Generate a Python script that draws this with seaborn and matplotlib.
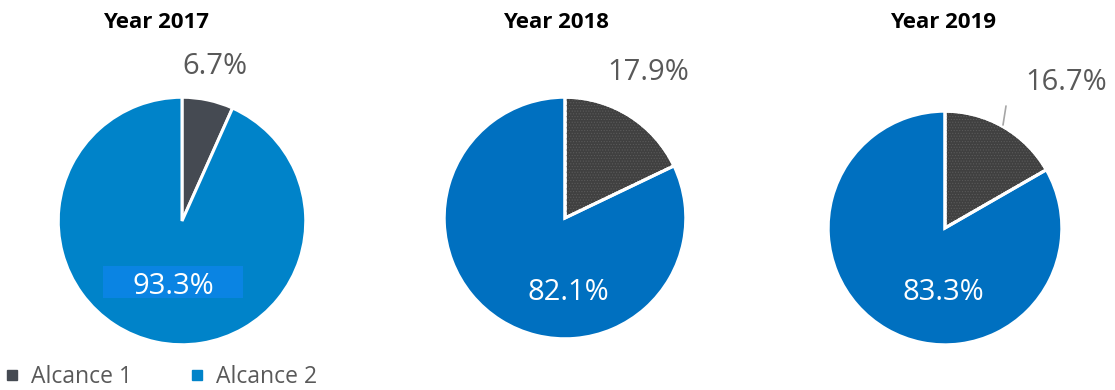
import matplotlib
matplotlib.use("Agg")
import matplotlib.pyplot as plt
from matplotlib.lines import Line2D
from matplotlib.patches import Wedge, Rectangle
import seaborn as sns

# Data
years = ["Year 2017", "Year 2018", "Year 2019"]
categories = ["Alcance 1", "Alcance 2"]
alcance1 = [6.7, 17.9, 16.7]
alcance2 = [93.3, 82.1, 83.3]

sns.set_theme(style="white")
plt.rcParams["font.family"] = ["Open Sans", "DejaVu Sans"]

W, H = 1115, 390
fig = plt.figure(figsize=(W / 100, H / 100), dpi=100)

# Pie geometry in pixels: (center x, center y from top, radius)
geom = [(182, 221, 125), (565, 218, 122), (945, 228, 118)]
dark_colors = ["#454a52", "#404040", "#404040"]
blue_colors = ["#0083c9", "#0070c0", "#0070c0"]
textured = [False, True, True]
title_x = [156, 556, 943]
out_label_pos = [(215, 67), (648, 72), (1066, 82)]
in_label_pos = [(173, 287), (568, 293), (943, 293)]

plt.rcParams["hatch.linewidth"] = 0.5

for i, (cx, cy, r) in enumerate(geom):
    ax = fig.add_axes([(cx - r) / W, (H - cy - r) / H, 2 * r / W, 2 * r / H])
    vals = [alcance1[i], alcance2[i]]
    wedges, _ = ax.pie(vals, colors=[dark_colors[i], blue_colors[i]], startangle=90,
                       counterclock=False, radius=1,
                       wedgeprops=dict(edgecolor="white", linewidth=2.2))
    if textured[i]:
        w = wedges[0]
        overlay = Wedge(w.center, w.r, w.theta1, w.theta2, facecolor="none",
                        edgecolor="#5a5a5a", hatch="......", linewidth=0)
        ax.add_patch(overlay)
        edge = Wedge(w.center, w.r, w.theta1, w.theta2, facecolor="none",
                     edgecolor="white", linewidth=2.2)
        ax.add_patch(edge)
    ax.set_xlim(-1.01, 1.01)
    ax.set_ylim(-1.01, 1.01)
    ax.set_aspect("equal")
    ax.axis("off")

    fig.text(title_x[i] / W, 1 - 22 / H, years[i], ha="center", va="center",
             fontsize=16, fontweight="bold", color="black")
    ox, oy = out_label_pos[i]
    fig.text(ox / W, 1 - oy / H, f"{alcance1[i]:.1f}%", ha="center", va="center",
             fontsize=21, color="#595959")
    ix, iy = in_label_pos[i]
    if i == 0:
        fig.add_artist(Rectangle((103 / W, 1 - 298 / H), 140 / W, 32 / H,
                                 transform=fig.transFigure, facecolor="#0a84e3",
                                 edgecolor="none"))
    fig.text(ix / W, 1 - iy / H, f"{alcance2[i]:.1f}%", ha="center", va="center",
             fontsize=21, color="white")

# Leader line for the 2019 label
fig.add_artist(Line2D([1003 / W, 1006 / W], [1 - 125 / H, 1 - 106 / H],
                      color="#a6a6a6", linewidth=1.2))

handles = [Line2D([], [], marker="s", linestyle="none", markersize=7,
                  color=c) for c in ["#454a52", "#0083c9"]]
fig.legend(handles, categories, loc="lower left", bbox_to_anchor=(-0.016, -0.05),
           ncol=2, frameon=False, fontsize=16.5, handletextpad=0.45,
           columnspacing=2.4, handlelength=0.8, labelcolor="#595959")

fig.savefig("out.png", dpi=100)
